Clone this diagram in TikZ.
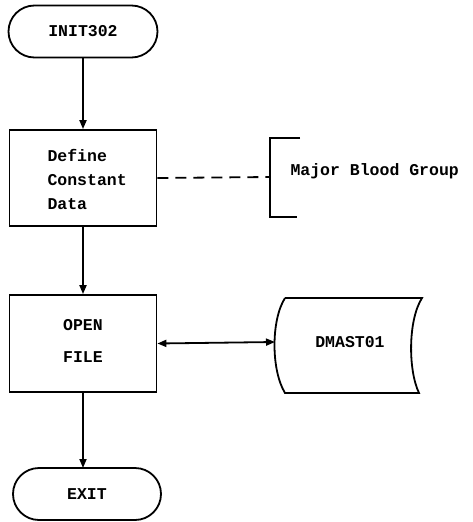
\documentclass[tikz,border=0pt]{standalone}
\usepackage{fontspec}
\setmonofont{Liberation Mono}
\usetikzlibrary{arrows.meta}
\begin{document}
\begin{tikzpicture}[x=1pt,y=-1pt,
  lw/.style={line width=1.8pt},
  term/.style={lw,draw,rectangle,rounded corners=26pt,minimum height=52pt,inner sep=0pt},
  procbox/.style={lw,draw,rectangle,inner sep=0pt},
  txt/.style={font=\ttfamily\bfseries\fontsize{16.5}{24}\selectfont},
  tip/.style={Triangle[length=9pt,width=7pt]},
  flow/.style={lw,-{Triangle[length=9pt,width=7pt]}},
  every node/.append style={txt}]
\useasboundingbox (0,0) rectangle (472,522);
\node[term,minimum width=149pt] (init) at (83,31.5) {INIT302};
\node[procbox,minimum width=147pt,minimum height=96pt] (def) at (83,178) {};
\node[align=left,anchor=west] (deft) at (44,179) {Define\\Constant\\Data};
\node[procbox,minimum width=147pt,minimum height=97pt] (open) at (83,343.5) {};
\node[align=center,font=\ttfamily\bfseries\fontsize{16.5}{32}\selectfont] (opent) at (83,341) {OPEN\\FILE};
\node[term,minimum width=148pt] (exit) at (87,494) {EXIT};
\draw[flow] (init.south) -- (def.north);
\draw[flow] (def.south) -- (open.north);
\coordinate (et) at (83,468);
\draw[flow] (open.south) -- (et);
% bracket annotation
\coordinate (bt) at (300,138);
\coordinate (bm) at (270,177);
\coordinate (bb) at (297,217);
\draw[lw] (bt) -- (270,138) -- (270,217) -- (bb);
\draw[lw,dash pattern=on 11pt off 7pt] (def.east) -- (bm);
\node[anchor=west] (maj) at (287,171) {Major Blood Group};
% stored data
\draw[lw] (285,298) -- (422,298) .. controls (408,320) and (408,370) .. (419,393)
  -- (285,393) .. controls (271,370) and (271,320) .. (285,298);
\coordinate (dml) at (275,342);
\node (dm) at (350,342) {DMAST01};
\draw[lw,{Triangle[length=9pt,width=7pt]}-{Triangle[length=9pt,width=7pt]}] (open.east) -- (dml);
\end{tikzpicture}
\end{document}
